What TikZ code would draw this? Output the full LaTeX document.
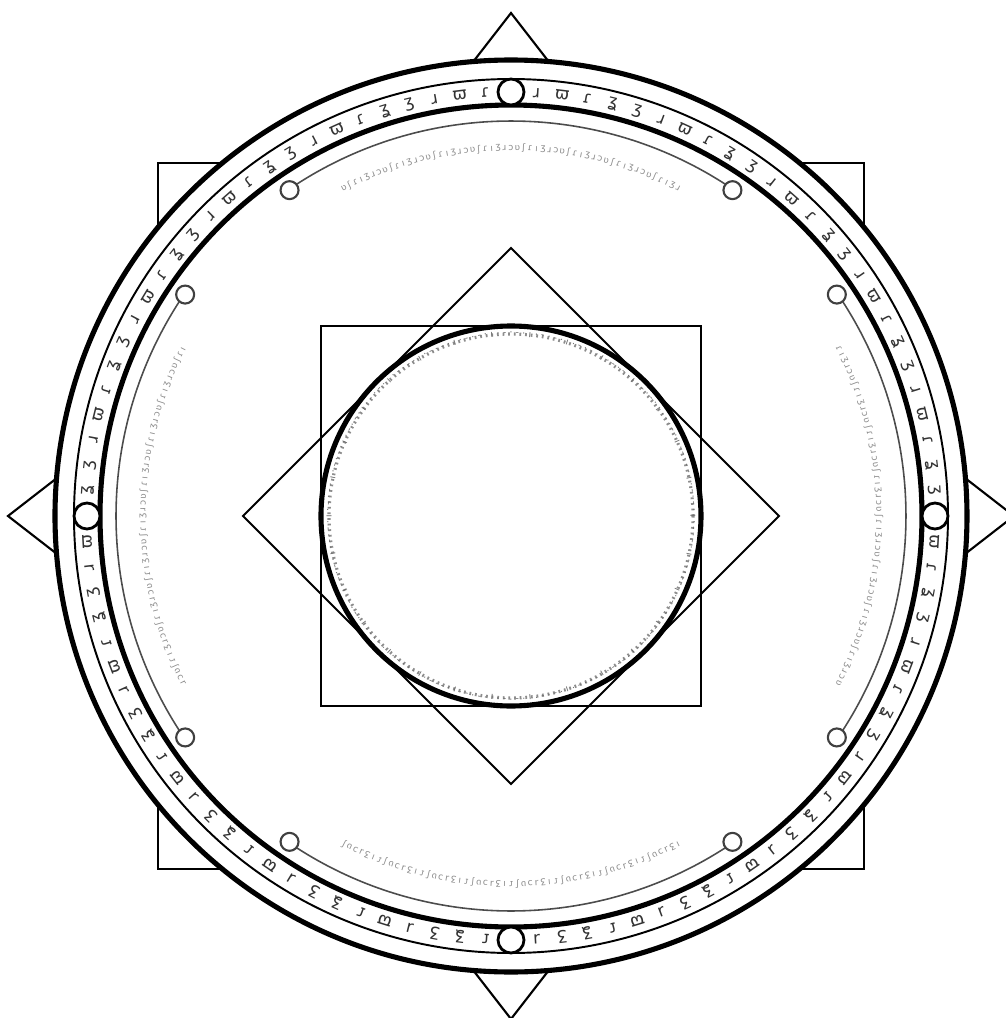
\documentclass[tikz,border=0pt]{standalone}
\usepackage{fontspec}
\newfontfamily\glyphfont{DejaVu Sans}
\newcommand\bandglyph[1]{\ifcase#1 ʒ\or ɹ\or ϖ\or ɾ\or ʓ\fi}
\newcommand\faintglyph[1]{\ifcase#1 ɾ\or ʋ\or ɹ\or ı\or ʃ\or ɔ\or ʒ\fi}
\newcommand\dotglyph[1]{\ifcase#1 ı\or ·\or -\or ·\or -\or ·\fi}

\begin{document}
\begin{tikzpicture}[scale=0.01,
  ring/.style={line width=1.45pt},
  thinring/.style={line width=0.55pt},
  frame/.style={line width=0.6pt},
  arcline/.style={line width=0.45pt,black!70},
  bead/.style={line width=0.8pt,fill=white},
  smallbead/.style={line width=0.6pt,black!75,fill=white},
  dotring/.style={line width=0.9pt,black!45,dash pattern=on 0.5pt off 1.1pt},
  glyph/.style={inner sep=0pt,text=black!80,font=\glyphfont\fontsize{4.8}{4.8}\selectfont},
  faint/.style={inner sep=0pt,text=black!45,font=\glyphfont\fontsize{2.6}{2.6}\selectfont},
  dotty/.style={inner sep=0pt,text=black!60,font=\glyphfont\fontsize{2.6}{2.6}\selectfont}]
  \useasboundingbox (-511,-502) rectangle (495,516);

  % outer frame: square corners and triangles behind the rings
  \draw[frame] (-353,-353) rectangle (353,353);
  \foreach \a in {0,90,180,270}
    \draw[frame,rotate=\a] (-45,445) -- (0,503) -- (45,445) -- cycle;
  \fill[white] (0,0) circle (456);

  % rings
  \draw[ring] (0,0) circle (456);
  \draw[thinring] (0,0) circle (437);
  \draw[ring] (0,0) circle (411);

  % glyph band
  \foreach \i in {0,...,103}{
    \pgfmathtruncatemacro\k{mod(\i,26)}
    \ifnum\k>0
      \pgfmathsetmacro\a{90-3.461538*\i}
      \pgfmathtruncatemacro\g{mod(\i,5)}
      \node[glyph,rotate=\a-90] (band\i) at (\a:424) {\bandglyph{\g}};
    \fi
  }
  \foreach \a in {0,90,180,270}
    \draw[bead] (\a:424) circle (13);

  % thin arcs with beads
  \foreach \c in {0,90,180,270}{
    \draw[arcline] (\c-32.8:395) arc[start angle=\c-32.8,end angle=\c+32.8,radius=395];
    \draw[smallbead] (\c-34.2:394) circle (9);
    \draw[smallbead] (\c+34.2:394) circle (9);
  }

  % faint script
  \foreach \c in {0,90,180,270}
    \foreach \j in {0,...,54}{
      \pgfmathsetmacro\a{\c+27-\j}
      \pgfmathtruncatemacro\g{mod(\j*3+\c/90,7)}
      \node[faint,rotate=\a-90] (faint\c-\j) at (\a:368) {\faintglyph{\g}};
    }

  % centre: square, diamond and circle
  \draw[frame] (-190,-190) rectangle (190,190);
  \draw[frame] (0,268) -- (268,0) -- (0,-268) -- (-268,0) -- cycle;
  \draw[ring] (0,0) circle (190);
  \draw[dotring] (0,0) circle (182);
  \foreach \j in {0,...,179}{
    \pgfmathsetmacro\a{\j*2}
    \pgfmathtruncatemacro\g{mod(\j,6)}
    \node[dotty,rotate=\a-90] (dot\j) at (\a:182) {\dotglyph{\g}};
  }
\end{tikzpicture}
\end{document}
